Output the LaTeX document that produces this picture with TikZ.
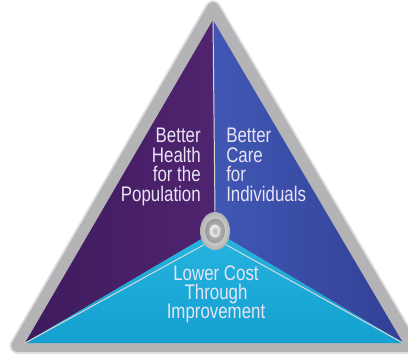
\documentclass[tikz,border=0pt]{standalone}
\usepackage{fontspec}
\setmainfont{Liberation Sans}
\newfontfamily\narrowfont[FakeStretch=0.8]{Liberation Sans}
\usetikzlibrary{calc, shapes.geometric}
\definecolor{purple_aim}{RGB}{80,36,112}
\definecolor{purple_dark}{RGB}{62,26,92}
\definecolor{blue_aim}{RGB}{64,88,180}
\definecolor{blue_dark}{RGB}{50,64,150}
\definecolor{cyan_aim}{RGB}{38,180,224}
\definecolor{cyan_dark}{RGB}{20,160,208}
\definecolor{frame_gray}{RGB}{180,180,182}
\definecolor{label_white}{RGB}{232,228,244}
\tikzset{
  aim label/.style={text=label_white, inner sep=0pt,
    font=\narrowfont\fontsize{15}{13.8}\selectfont},
  divider/.style={draw=white!70!gray, line width=0.7pt},
  hub ring/.style={ellipse, inner sep=0pt}
}

\begin{document}
\begin{tikzpicture}[x=0.025cm, y=-0.025cm]
\useasboundingbox (0,0) rectangle (408,355);

% Corners of the triangle
\coordinate (apex) at (213,20);
\coordinate (left) at (25,343);
\coordinate (right) at (403,343);
\coordinate (mid) at (215,231);

% Draw the gray frame
\fill[frame_gray, draw=gray!25, line width=1.2pt, rounded corners=0.35cm]
  (213,-6) -- (5,353) -- (424,353) -- cycle;

% Draw the three coloured parts
\shade[left color=purple_dark, right color=purple_aim] (apex) -- (mid) -- (left) -- cycle;
\shade[left color=blue_aim, right color=blue_dark] (apex) -- (right) -- (mid) -- cycle;
\shade[top color=cyan_aim, bottom color=cyan_dark] (mid) -- (right) -- (left) -- cycle;

% The centre knob
\node[hub ring, minimum width=0.75cm, minimum height=0.95cm,
  inner color=white!92!gray, outer color=gray!60] (hub) at (mid) {};
\node[hub ring, minimum width=0.5cm, minimum height=0.62cm,
  inner color=gray!45, outer color=gray!80] (hubring) at (hub) {};
\node[hub ring, minimum width=0.26cm, minimum height=0.32cm,
  inner color=gray!60, outer color=white!90!gray] (hubcap) at (hub) {};

% Divider lines from the knob
\draw[divider] (apex) -- (hub.north);
\draw[divider] (left) -- (hub.south west);
\draw[divider] (right) -- (hub.south east);

% Labels
\node[aim label, align=right, anchor=north east] (health) at (201,128)
  {Better\\Health\\for the\\Population};
\node[aim label, align=left, anchor=north west] (care) at (226,128)
  {Better\\Care\\for\\Individuals};
\node[aim label, align=center, anchor=north] (cost) at (216,265)
  {Lower Cost\\Through\\Improvement};

\end{tikzpicture}
\end{document}
